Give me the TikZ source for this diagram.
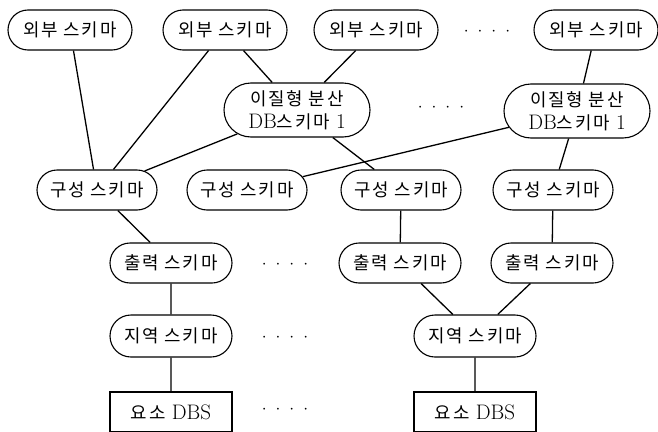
\documentclass[tikz,border=0pt]{standalone}
\usepackage{fontspec}
\newfontfamily\kr[LetterSpace=10,Scale=0.85]{Noto Sans CJK KR}
\usetikzlibrary{shapes.misc}
\begin{document}
\begin{tikzpicture}[x=1pt,y=-1pt,
  every node/.style={font=\fontsize{21}{23}\selectfont, inner sep=0pt, align=center},
  pill/.style={draw, line width=1.1pt, rounded rectangle, minimum height=40pt},
  ext/.style={pill, minimum width=124pt},
  het/.style={pill, minimum width=146pt, minimum height=54pt},
  con/.style={pill, minimum width=120pt},
  outp/.style={pill, minimum width=122pt},
  loc/.style={pill, minimum width=122pt, minimum height=42pt},
  dbs/.style={draw, line width=1.1pt, rectangle, minimum width=122pt, minimum height=40pt},
  link/.style={line width=1.3pt},
  dots/.style={font=\fontsize{18}{22}\selectfont}]
\clip (0,0) rectangle (658,431);
\node[ext] (e1) at (70,30) {{\kr 외부 스키마}};
\node[ext] (e2) at (225,30) {{\kr 외부 스키마}};
\node[ext] (e3) at (376,30) {{\kr 외부 스키마}};
\node[ext] (e4) at (596,30) {{\kr 외부 스키마}};
\node[dots] (d1) at (487,32) {$\cdot$\hskip9pt$\cdot$\hskip9pt$\cdot$\hskip9pt$\cdot$};
\node[het] (h1) at (297,110) {{\kr 이질형 분산}\\DB{\kr 스키마} 1};
\node[het] (h2) at (577,111) {{\kr 이질형 분산}\\DB{\kr 스키마} 1};
\node[dots] (d2) at (441,108) {$\cdot$\hskip9pt$\cdot$\hskip9pt$\cdot$\hskip9pt$\cdot$};
\node[con] (c1) at (97,190) {{\kr 구성 스키마}};
\node[con] (c2) at (247,190) {{\kr 구성 스키마}};
\node[con] (c3) at (401,190) {{\kr 구성 스키마}};
\node[con] (c4) at (553,190) {{\kr 구성 스키마}};
\node[outp] (o1) at (171,263) {{\kr 출력 스키마}};
\node[outp] (o2) at (400,263) {{\kr 출력 스키마}};
\node[outp] (o3) at (552,263) {{\kr 출력 스키마}};
\node[dots] (d3) at (285,265) {$\cdot$\hskip9pt$\cdot$\hskip9pt$\cdot$\hskip9pt$\cdot$};
\node[loc] (l1) at (171,336) {{\kr 지역 스키마}};
\node[loc] (l2) at (475,336) {{\kr 지역 스키마}};
\node[dots] (d4) at (285,338) {$\cdot$\hskip9pt$\cdot$\hskip9pt$\cdot$\hskip9pt$\cdot$};
\node[dbs] (b1) at (171,412) {{\kr 요소} DBS};
\node[dbs] (b2) at (475,412) {{\kr 요소} DBS};
\node[dots] (d5) at (285,410) {$\cdot$\hskip9pt$\cdot$\hskip9pt$\cdot$\hskip9pt$\cdot$};
\draw[link] (e1) -- (c1);
\draw[link] (e2) -- (c1);
\draw[link] (e2) -- (h1);
\draw[link] (e3) -- (h1);
\draw[link] (e4) -- (h2);
\draw[link] (h1) -- (c1);
\draw[link] (h1) -- (c3);
\draw[link] (h2) -- (c2);
\draw[link] (h2) -- (c4);
\draw[link] (c1) -- (o1);
\draw[link] (c3) -- (o2);
\draw[link] (c4) -- (o3);
\draw[link] (o1) -- (l1);
\draw[link] (o2) -- (l2);
\draw[link] (o3) -- (l2);
\draw[link] (l1) -- (b1);
\draw[link] (l2) -- (b2);
\end{tikzpicture}
\end{document}
